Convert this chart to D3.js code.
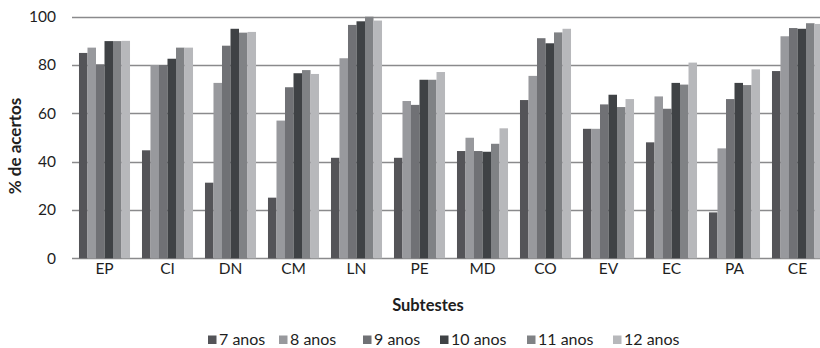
<!DOCTYPE html>
<html>
<head>
<meta charset="utf-8">
<script src="https://cdn.jsdelivr.net/npm/d3@7"></script>
<style>
  html, body { margin: 0; padding: 0; background: #fff; }
  svg { display: block; }
</style>
</head>
<body>
<svg id="chart" width="820" height="348"></svg>
<script>
// Subtests and age groups
const categories = ["EP", "CI", "DN", "CM", "LN", "PE", "MD", "CO", "EV", "EC", "PA", "CE"];
const seriesNames = ["7 anos", "8 anos", "9 anos", "10 anos", "11 anos", "12 anos"];
const seriesColors = ["#545458", "#98999d", "#707175", "#3f4245", "#808285", "#b7b8bb"];

// % of correct answers, one array per age group (in subtest order)
const anos7  = [85, 44.7, 31.3, 25.1, 41.6, 41.6, 44.4, 65.5, 53.6, 48.0, 19.0, 77.5];
const anos8  = [87.2, 80.0, 72.6, 57.0, 82.8, 65.1, 49.9, 75.5, 53.6, 67.0, 45.5, 91.9];
const anos9  = [80.3, 80.0, 88.0, 70.8, 96.6, 63.5, 44.4, 91.1, 63.7, 61.9, 65.9, 95.3];
const anos10 = [89.9, 82.6, 95.0, 76.6, 98.1, 73.9, 44.1, 89.0, 67.7, 72.6, 72.6, 95.0];
const anos11 = [89.9, 87.2, 93.4, 77.9, 100, 73.9, 47.4, 93.5, 62.6, 71.9, 71.7, 97.3];
const anos12 = [90.0, 87.2, 93.7, 76.3, 98.4, 77.1, 53.8, 95.0, 65.9, 81.0, 78.2, 97.0];
const seriesValues = [anos7, anos8, anos9, anos10, anos11, anos12];

const yTicks = [0, 20, 40, 60, 80, 100];

const svg = d3.select("#chart");
const font = "Lato, 'Open Sans', sans-serif";

const plot = { left: 73, right: 829, top: 16.7, bottom: 258.3 };

const x = d3.scaleBand()
  .domain(categories)
  .range([plot.left, plot.right])
  .paddingInner(0.19)
  .paddingOuter(0.095);

const xInner = d3.scaleBand()
  .domain(seriesNames)
  .range([0, x.bandwidth()]);

const y = d3.scaleLinear().domain([0, 100]).range([plot.bottom, plot.top]);

// Horizontal gridlines (the 0 line doubles as the category axis)
svg.append("g")
  .selectAll("line")
  .data(yTicks)
  .join("line")
  .attr("x1", 72)
  .attr("x2", 820)
  .attr("y1", d => Math.round(y(d)) + 0.5)
  .attr("y2", d => Math.round(y(d)) + 0.5)
  .attr("stroke", "#8a8a8c")
  .attr("stroke-width", 1.5);

// Bars
const groups = svg.append("g")
  .selectAll("g")
  .data(categories)
  .join("g")
  .attr("transform", d => `translate(${x(d)},0)`);

groups.selectAll("rect")
  .data((c, i) => seriesNames.map((s, k) => ({ s, k, v: seriesValues[k][i] })))
  .join("rect")
  .attr("x", d => xInner(d.s))
  .attr("width", xInner.bandwidth())
  .attr("y", d => y(d.v))
  .attr("height", d => y(0) - y(d.v))
  .attr("fill", d => seriesColors[d.k]);

// Y axis tick labels
const yAxis = d3.axisLeft(y).tickValues(yTicks).tickSize(0).tickPadding(0);
svg.append("g")
  .attr("transform", "translate(56,0)")
  .call(yAxis)
  .call(g => g.select(".domain").remove())
  .selectAll("text")
  .attr("font-family", font)
  .attr("font-size", 15.5)
  .attr("fill", "#1e1e1e");

// X axis category labels
const xAxis = d3.axisBottom(x).tickSize(0).tickPadding(0);
svg.append("g")
  .attr("transform", "translate(0,263)")
  .call(xAxis)
  .call(g => g.select(".domain").remove())
  .selectAll("text")
  .attr("font-family", font)
  .attr("font-size", 15.5)
  .attr("fill", "#1e1e1e");

// Axis titles
svg.append("text")
  .attr("transform", "translate(21,146) rotate(-90)")
  .attr("text-anchor", "middle")
  .attr("font-family", font)
  .attr("font-weight", "bold")
  .attr("font-size", 17)
  .attr("fill", "#1e1e1e")
  .text("% de acertos");

svg.append("text")
  .attr("x", 428)
  .attr("y", 311)
  .attr("text-anchor", "middle")
  .attr("font-family", font)
  .attr("font-weight", "bold")
  .attr("font-size", 16.5)
  .attr("fill", "#1e1e1e")
  .text("Subtestes");

// Legend
const legendX = [208, 279, 363, 440, 527, 613];
const legend = svg.append("g")
  .selectAll("g")
  .data(seriesNames)
  .join("g")
  .attr("transform", (d, i) => `translate(${legendX[i]},335.5)`);

legend.append("rect")
  .attr("width", 8.5)
  .attr("height", 8.5)
  .attr("fill", (d, i) => seriesColors[i]);

legend.append("text")
  .attr("x", 11)
  .attr("y", 9)
  .attr("font-family", font)
  .attr("font-size", 16)
  .attr("fill", "#1e1e1e")
  .text(d => d);
</script>
</body>
</html>
